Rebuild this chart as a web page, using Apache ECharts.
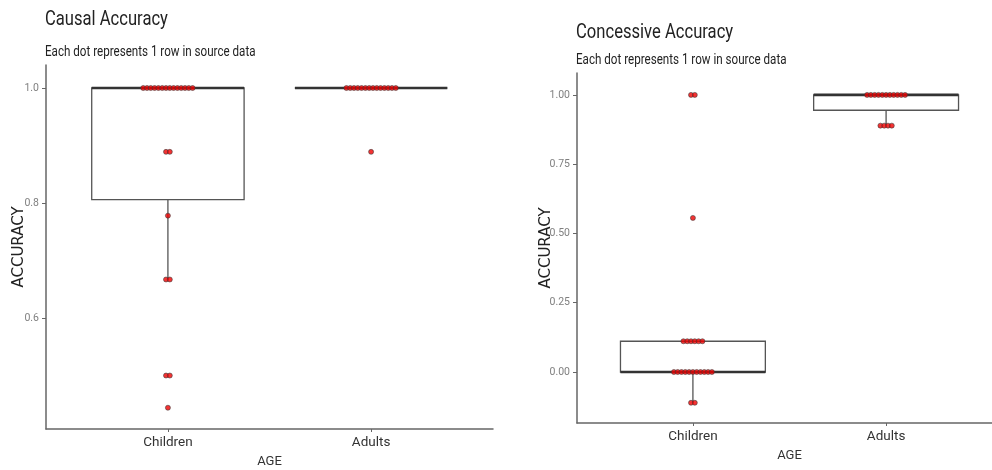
<!DOCTYPE html>
<html>
<head>
<meta charset="utf-8">
<title>Causal / Concessive Accuracy</title>
<script src="https://cdn.jsdelivr.net/npm/echarts@6.0.0/dist/echarts.min.js"></script>
<style>
  html, body { margin: 0; padding: 0; background: #fff; }
  #chart { width: 992px; height: 470px; }
</style>
</head>
<body>
<div id="chart"></div>
<script>
// categories on the x axis (position 1 and 2)
var ageGroups = ['Children', 'Adults'];

// Causal accuracy: distinct values and how many rows have each
var causalChildrenValues = [1.0, 0.889, 0.778, 0.667, 0.5, 0.444];
var causalChildrenCounts = [14, 2, 1, 2, 2, 1];
var causalAdultValues = [1.0, 0.889];
var causalAdultCounts = [14, 1];

// Concessive accuracy
var concChildrenValues = [1.0, 0.556, 0.111, 0.0, -0.111];
var concChildrenCounts = [2, 1, 6, 11, 2];
var concAdultValues = [1.0, 0.889];
var concAdultCounts = [11, 4];

// y tick labels
var causalTicks = [0.6, 0.8, 1.0];
var concTicks = [0.0, 0.25, 0.5, 0.75, 1.0];

var FONT = 'Roboto, sans-serif';
var BOX_WIDTH = 0.75;   // ggplot default, in category units
var DOT_STEP = 3.8;     // px between stacked dots
var NARROW = 0.83;      // squeeze for the condensed-looking title font

// expand value/count pairs into rows
function expand(values, counts) {
	var rows = [];
	for (var i = 0; i < values.length; i++) {
		for (var k = 0; k < counts[i]; k++) rows.push(values[i]);
	}
	return rows.sort(function(a, b) { return a - b; });
}

// quantile, type 7 (same as R default)
function quantile(sorted, p) {
	var h = (sorted.length - 1) * p;
	var lo = Math.floor(h);
	var hi = Math.ceil(h);
	return sorted[lo] + (h - lo) * (sorted[hi] - sorted[lo]);
}

// [x, lowerWhisker, Q1, median, Q3, upperWhisker]
function boxStats(x, values, counts) {
	var rows = expand(values, counts);
	var q1 = quantile(rows, 0.25), med = quantile(rows, 0.5), q3 = quantile(rows, 0.75);
	var iqr = q3 - q1;
	var lo = q1, hi = q3;
	rows.forEach(function(v) {
		if (v >= q1 - 1.5 * iqr && v < lo) lo = v;
		if (v <= q3 + 1.5 * iqr && v > hi) hi = v;
	});
	return [x, lo, q1, med, q3, hi];
}

// centred dot stacks: one item per row, offset sideways in pixels
function dots(x, values, counts) {
	var out = [];
	for (var i = 0; i < values.length; i++) {
		var n = counts[i];
		for (var k = 0; k < n; k++) {
			out.push({ value: [x, values[i]], symbolOffset: [(k - (n - 1) / 2) * DOT_STEP, 0] });
		}
	}
	return out;
}

function boxItem(params, api) {
	var x = api.value(0);
	var lo = api.coord([x, api.value(1)]);
	var q1 = api.coord([x, api.value(2)]);
	var md = api.coord([x, api.value(3)]);
	var q3 = api.coord([x, api.value(4)]);
	var hi = api.coord([x, api.value(5)]);
	var half = api.size([BOX_WIDTH, 0])[0] / 2;
	var edge = { stroke: '#555', lineWidth: 1.3, fill: null };
	return {
		type: 'group',
		children: [
			{ type: 'line', shape: { x1: lo[0], y1: lo[1], x2: q1[0], y2: q1[1] }, style: edge },
			{ type: 'line', shape: { x1: q3[0], y1: q3[1], x2: hi[0], y2: hi[1] }, style: edge },
			{ type: 'rect', shape: { x: q3[0] - half, y: q3[1], width: half * 2, height: q1[1] - q3[1] },
				style: { fill: '#fff', stroke: '#555', lineWidth: 1.3 } },
			{ type: 'line', shape: { x1: md[0] - half, y1: md[1], x2: md[0] + half, y2: md[1] },
				style: { stroke: '#333', lineWidth: 2.6 } }
		]
	};
}

function xAxisFor(gridIndex) {
	return {
		type: 'value', gridIndex: gridIndex, min: 0.4, max: 2.6,
		name: 'AGE', nameLocation: 'middle', nameGap: 26, nameMoveOverlap: false,
		nameTextStyle: { fontFamily: FONT, fontSize: 13, color: '#333' },
		splitLine: { show: false },
		axisLine: { show: true, onZero: false, lineStyle: { color: '#666', width: 1.5 } },
		axisTick: { show: true, customValues: [1, 2], length: 3, lineStyle: { color: '#666' } },
		axisLabel: {
			customValues: [1, 2], margin: 7, fontFamily: FONT, fontSize: 13.5, color: '#333',
			formatter: function(v) { return ageGroups[Math.round(v) - 1]; }
		}
	};
}

function yAxisFor(gridIndex, min, max, ticks, digits, gap) {
	return {
		type: 'value', gridIndex: gridIndex, min: min, max: max,
		name: 'ACCURACY', nameLocation: 'middle', nameGap: gap, nameMoveOverlap: false,
		nameTextStyle: { fontFamily: '"DejaVu Sans", sans-serif', fontSize: 15, color: '#222' },
		splitLine: { show: false },
		axisLine: { show: true, onZero: false, lineStyle: { color: '#666', width: 1.5 } },
		axisTick: { show: true, customValues: ticks, length: 4, lineStyle: { color: '#666' } },
		axisLabel: {
			customValues: ticks, margin: 7, fontFamily: FONT, fontSize: 10.5, color: '#7f7f7f',
			formatter: function(v) { return v.toFixed(digits); }
		}
	};
}

function dotSeries(index, data) {
	return {
		type: 'scatter', xAxisIndex: index, yAxisIndex: index, z: 5,
		symbol: 'circle', symbolSize: 5,
		itemStyle: { color: '#f00000', borderColor: '#3a3a3a', borderWidth: 0.7 },
		data: data
	};
}

function titleText(text, x, y, size) {
	return {
		type: 'text', x: x, y: y, scaleX: NARROW, z: 10,
		style: { text: text, fontFamily: FONT, fontSize: size, fill: '#222', verticalAlign: 'top' }
	};
}

var chart = echarts.init(document.getElementById('chart'));
chart.setOption({
	animation: false,
	graphic: [
		titleText('Causal Accuracy', 45, 10, 20),
		titleText('Each dot represents 1 row in source data', 45, 45, 14),
		titleText('Concessive Accuracy', 576, 23, 20),
		titleText('Each dot represents 1 row in source data', 576, 53, 14)
	],
	grid: [
		{ left: 46, top: 65, width: 447, height: 364, outerBoundsMode: 'none' },
		{ left: 577, top: 73, width: 425, height: 350, outerBoundsMode: 'none' }
	],
	xAxis: [xAxisFor(0), xAxisFor(1)],
	yAxis: [
		yAxisFor(0, 0.407, 1.04, causalTicks, 1, 19),
		yAxisFor(1, -0.184, 1.079, concTicks, 2, 23)
	],
	series: [
		{ type: 'custom', xAxisIndex: 0, yAxisIndex: 0, z: 2, renderItem: boxItem,
			encode: { x: 0, y: [1, 2, 3, 4, 5] },
			data: [boxStats(1, causalChildrenValues, causalChildrenCounts),
				boxStats(2, causalAdultValues, causalAdultCounts)] },
		{ type: 'custom', xAxisIndex: 1, yAxisIndex: 1, z: 2, renderItem: boxItem,
			encode: { x: 0, y: [1, 2, 3, 4, 5] },
			data: [boxStats(1, concChildrenValues, concChildrenCounts),
				boxStats(2, concAdultValues, concAdultCounts)] },
		dotSeries(0, dots(1, causalChildrenValues, causalChildrenCounts).concat(
			dots(2, causalAdultValues, causalAdultCounts))),
		dotSeries(1, dots(1, concChildrenValues, concChildrenCounts).concat(
			dots(2, concAdultValues, concAdultCounts)))
	]
});
</script>
</body>
</html>
